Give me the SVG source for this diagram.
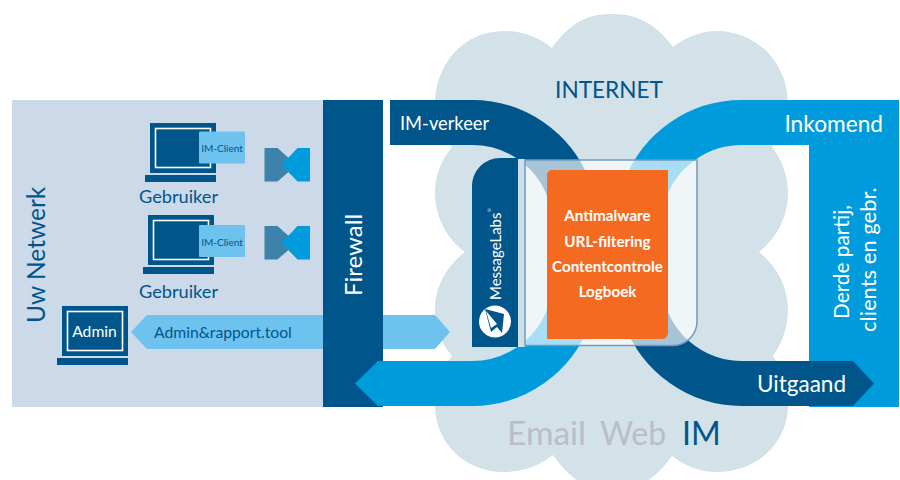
<svg xmlns="http://www.w3.org/2000/svg" width="900" height="480" viewBox="0 0 900 480">
<defs>
<style>
text{font-family:"Lato","Open Sans","Liberation Sans",sans-serif}
.dk{fill:#00558b}
.lb{fill:#009bdc}
.sky{fill:#6ec3ee}
.w{fill:#fff}
.t-d{fill:#00558b}
.scr{fill:none;stroke:#fff;stroke-width:1.6}
.band{fill:none;stroke-width:45}
.svc{font-size:15.2px;font-weight:700;fill:#fff;text-anchor:middle}
.cl{font-size:10px;fill:#00558b;text-anchor:middle}
.gb{font-size:18.2px;fill:#00558b}
</style>
<g id="laptop">
<rect class="dk" x="5" y="0" width="66" height="50"/>
<rect class="scr" x="10.500" y="5.500" width="55" height="39"/>
<rect class="dk" x="0" y="52" width="71" height="7"/>
</g>
<g id="bow">
<polygon points="0,0 13,0 32,17 13,33.500 0,33.500" fill="#3d82aa"/>
<polygon points="45.500,0 33,0 17,17 33,33.500 45.500,33.500" class="lb"/>
</g>
</defs>
<rect width="900" height="480" fill="#fff"/>
<g id="internet-cloud">
<path d="M552,48 C572,20 590,14 612,14 C638,14 656,24 673,47 C686,37 702,31 716,31 C758,31 788,64 788,104 C788,120 782,135 772,147 C782,160 788,176 788,193 C788,218 775,240 759,252 C775,265 788,285 788,310 C788,327 782,343 773,356 C782,369 788,385 788,405 C788,442 758,472 716,472 C700,472 685,466 672,456 C655,480 635,492 612,492 C590,492 570,480 553,455 C540,466 522,472 504,472 C464,472 435,442 435,405 C435,385 441,369 452,356 C441,343 435,327 435,310 C435,285 448,265 465,252 C448,240 435,218 435,193 C435,176 441,160 452,147 C441,135 435,120 435,104 C435,64 464,31 504,31 C522,31 538,37 552,48Z" fill="#d3e1e9"/>
<text x="609" y="98" font-size="22.600" text-anchor="middle" class="t-d">INTERNET</text>
<text x="507" y="445" font-size="33.500" fill="#b9bec6">Email</text>
<text x="600" y="445" font-size="32" fill="#b9bec6">Web</text>
<text x="682" y="445" font-size="32" class="t-d">IM</text>
</g>
<g id="uw-netwerk">
<rect x="12" y="100" width="311" height="307" fill="#cbd9e9"/>
<text transform="translate(45,323) rotate(-90)" font-size="24.500" class="t-d">Uw Netwerk</text>
</g>
<g id="admin-tool">
<polygon class="sky" points="131,332 147,315 435,315 450,332 435,349 147,349"/>
<text x="154" y="338" font-size="15.700" class="t-d">Admin&amp;rapport.tool</text>
</g>
<g id="firewall">
<rect class="dk" x="323" y="100" width="60" height="307"/>
<text transform="translate(362,296) rotate(-90)" font-size="24" class="w">Firewall</text>
</g>
<g id="connectors">
<path class="band" stroke="#009bdc" d="M815,122.500 H742 A103,103 0 0 0 645,190 L569,315 A103,103 0 0 1 472,383.500 H378"/>
<polygon class="lb" points="355,383.500 378,361 385,361 385,406 378,406"/>
<rect class="lb" x="809" y="100" width="90" height="307"/>
<path class="band" stroke="#00558b" d="M390,122.500 H472 A103,103 0 0 1 569,190 L645,315 A103,103 0 0 0 742,383.500 H853"/>
<polygon class="dk" points="853,361 874,383.500 853,406"/>
</g>
<g id="gebruiker-1">
<use href="#laptop" x="145" y="123"/>
<rect class="sky" x="199" y="131.500" width="46" height="32" rx="1"/>
<text class="cl" x="222" y="151.500">IM-Client</text>
<text class="gb" x="139" y="203">Gebruiker</text>
<use href="#bow" x="264.500" y="148"/>
</g>
<g id="gebruiker-2">
<use href="#laptop" x="143" y="215"/>
<rect class="sky" x="199" y="225" width="46" height="32" rx="1"/>
<text class="cl" x="222" y="245.500">IM-Client</text>
<text class="gb" x="139" y="298">Gebruiker</text>
<use href="#bow" x="264.500" y="226"/>
</g>
<g id="admin">
<use href="#laptop" x="57" y="306"/>
<text x="94.500" y="337" font-size="15.700" text-anchor="middle" class="w">Admin</text>
</g>
<g id="filter-box">
<rect x="518" y="159" width="7" height="188" fill="#cfdfe9"/>
<path d="M525,160 H697 V321 A24,24 0 0 1 673,345.500 H525Z" fill="#fff" fill-opacity=".66" stroke="#6f9bbd" stroke-width="1.500"/>
</g>
<g id="messagelabs">
<path class="dk" d="M472,347 V187 A28,28 0 0 1 500,158 H518 V347Z"/>
<text transform="translate(501,300) rotate(-90)" font-size="15" class="w">MessageLabs</text>
<text transform="translate(491,212) rotate(-90)" font-size="4.500" class="w">®</text>
<circle class="w" cx="495" cy="321.500" r="16"/>
<polygon class="dk" points="485,309 504,314 502,333 497,327 491,332"/>
<polygon class="w" points="486,311 497,324 491,328"/>
</g>
<g id="services">
<path d="M552,170 H668 V333 A6,6 0 0 1 662,339 H547 V175 A5,5 0 0 1 552,170Z" fill="#f46a21"/>
<text class="svc" x="607.500" y="221">Antimalware</text>
<text class="svc" x="607.500" y="247">URL-filtering</text>
<text class="svc" x="607.500" y="272">Contentcontrole</text>
<text class="svc" x="607.500" y="297">Logboek</text>
</g>
<g id="labels">
<text x="400" y="130" font-size="18.300" class="w">IM-verkeer</text>
<text x="883" y="132" font-size="22.700" text-anchor="end" class="w">Inkomend</text>
<text x="757" y="392" font-size="22.500" class="w">Uitgaand</text>
<text transform="translate(849,319) rotate(-90)" font-size="20.800" class="w">Derde partij,</text>
<text transform="translate(876,332) rotate(-90)" font-size="22" class="w">clients en gebr.</text>
</g>
</svg>
